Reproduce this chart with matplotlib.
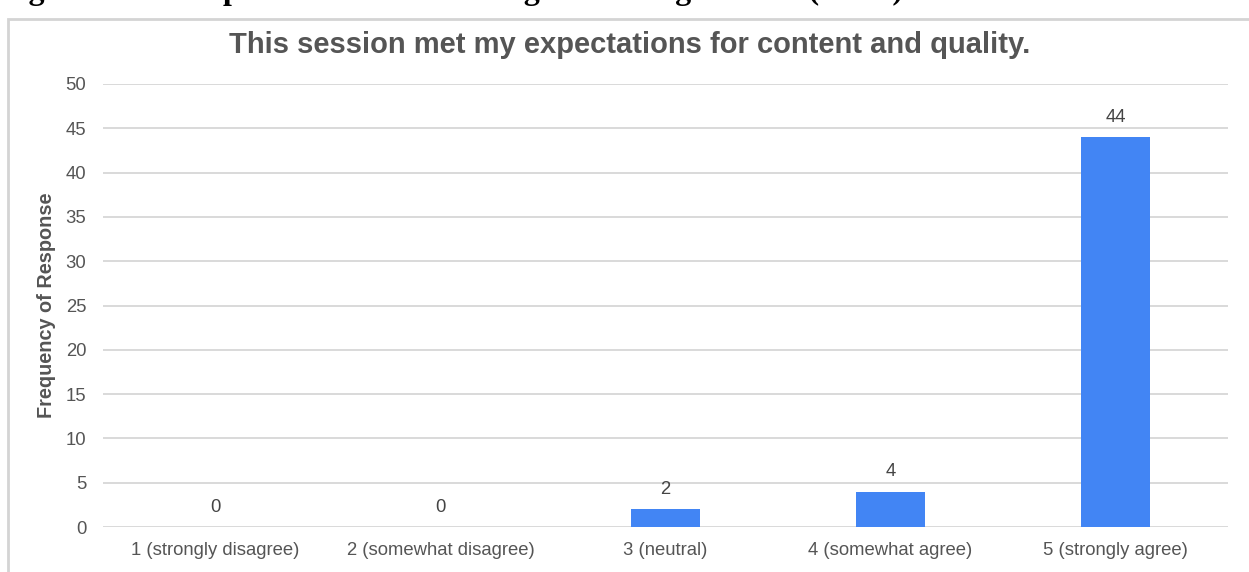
import matplotlib
matplotlib.use("Agg")
import matplotlib.pyplot as plt
from matplotlib.patches import Rectangle

categories = ["1 (strongly disagree)", "2 (somewhat disagree)", "3 (neutral)",
              "4 (somewhat agree)", "5 (strongly agree)"]
counts = [0, 0, 2, 4, 44]
yticks = [0, 5, 10, 15, 20, 25, 30, 35, 40, 45, 50]

title = "This session met my expectations for content and quality."
ylabel = "Frequency of Response"
caption = "Figure 3. Participant satisfaction rating of meeting content (N=50)"

plt.rcParams["font.family"] = ["Liberation Sans", "DejaVu Sans"]

W, H = 1249, 572
fig = plt.figure(figsize=(W / 100, H / 100), dpi=100)
fig.patch.set_facecolor("white")

# chart frame border
fig.add_artist(Rectangle((8 / W, -0.1), 1.2, (H - 19) / H + 0.1,
                         transform=fig.transFigure, fill=False,
                         edgecolor="#d4d4d4", linewidth=2))

# document caption above the chart, mostly cut off by the top edge
fig.text(0.0, 1.0 + 9 / H, caption, family="Liberation Serif", fontweight="bold",
         fontsize=23, color="black", ha="left", va="center")

ax = fig.add_axes([103 / W, (H - 527) / H, (1228 - 103) / W, (527 - 84) / H])
x = range(len(categories))
ax.bar(x, counts, width=0.31, color="#4285F4", zorder=3)
ax.set_xlim(-0.5, len(categories) - 0.5)
ax.set_ylim(0, 50)
ax.set_yticks(yticks)
ax.set_xticks(list(x))
ax.set_xticklabels(categories)
ax.grid(axis="y", color="#d9d9d9", linewidth=1.4, zorder=0)
ax.tick_params(axis="both", length=0, labelsize=13.3, labelcolor="#555555")
ax.tick_params(axis="x", pad=11)
ax.tick_params(axis="y", pad=12)
for s in ax.spines.values():
    s.set_visible(False)

for xi, v in zip(x, counts):
    ax.annotate(str(v), (xi, v), xytext=(0, 8), textcoords="offset points",
                ha="center", va="bottom", fontsize=13.3, color="#444444")

ax.set_ylabel(ylabel, fontsize=14.3, fontweight="bold", color="#555555", labelpad=7)
fig.text(630 / W, (H - 45) / H, title, ha="center", va="center",
         fontsize=21, fontweight="bold", color="#555555")

fig.savefig("out.png", dpi=100, facecolor="white")
